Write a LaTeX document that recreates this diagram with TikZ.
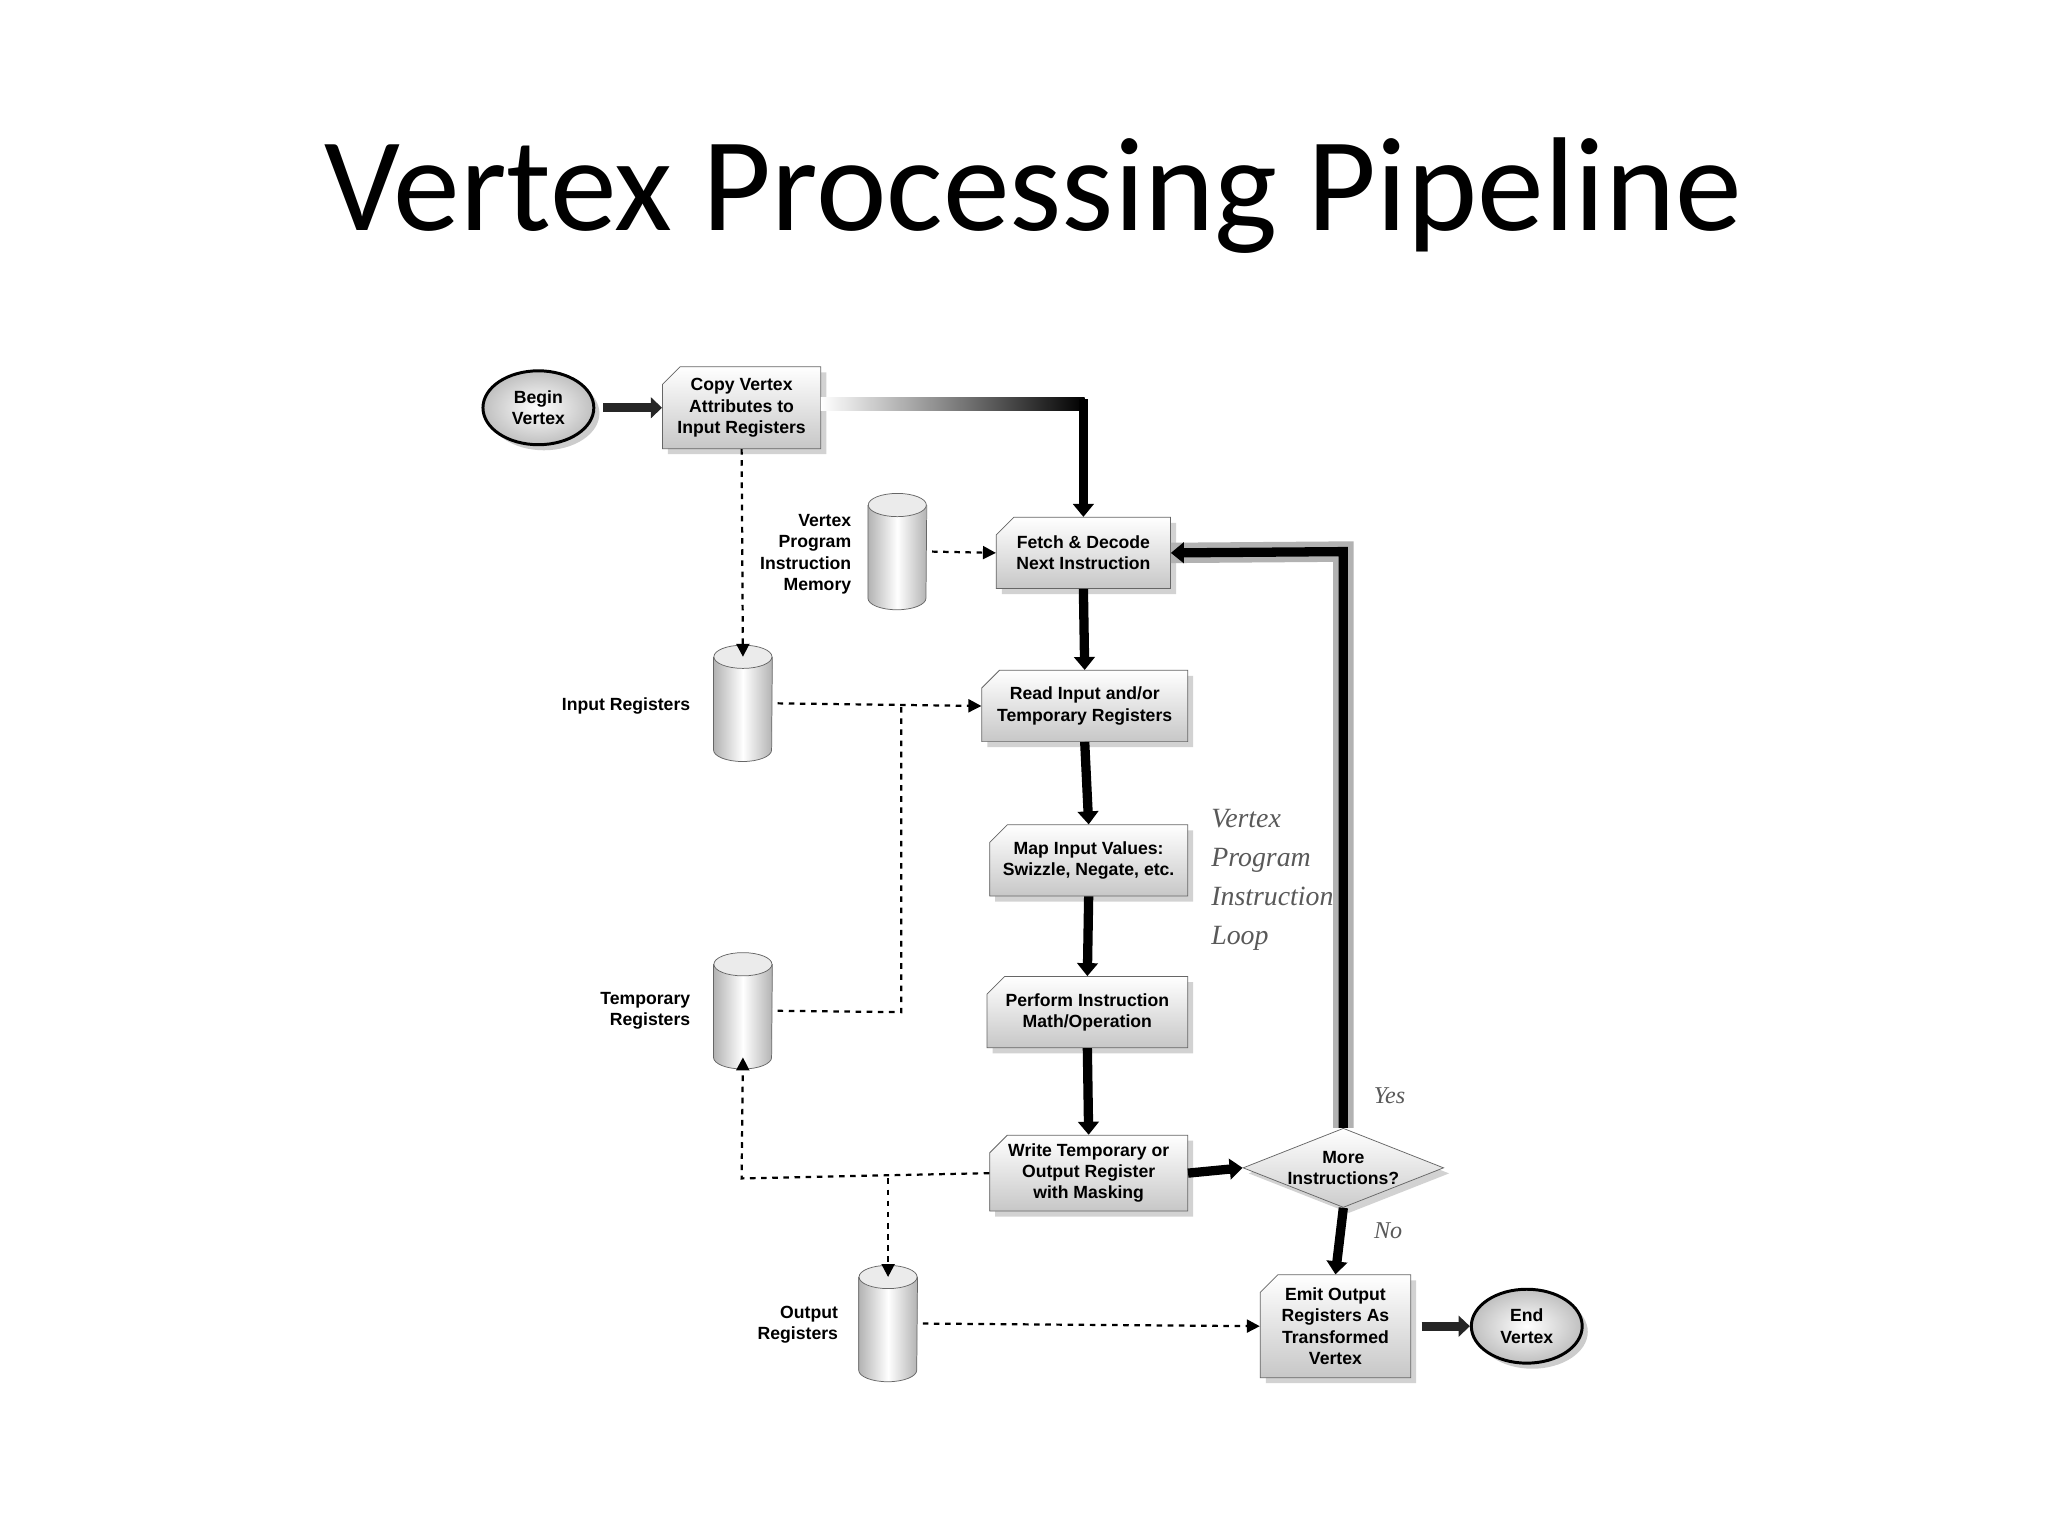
\documentclass[tikz,border=0pt]{standalone}
\usepackage{fontspec}
\setmainfont{Liberation Sans}
\newfontfamily\titlefont{Carlito}
\newfontfamily\itfont{Liberation Serif}
\usetikzlibrary{shapes.geometric,shapes.misc,shadows,arrows.meta}
\begin{document}
\begin{tikzpicture}[x=0.025cm,y=-0.025cm,
  box/.style={chamfered rectangle,chamfered rectangle corners=north west,chamfered rectangle xsep=6pt,
    draw=black!60,top color=white,bottom color=black!22,drop shadow={opacity=0.35,shadow xshift=3pt,shadow yshift=-3pt},
    align=center,font=\bfseries\fontsize{9.5}{11.5}\selectfont,inner sep=1pt},
  oval/.style={ellipse,draw,line width=1.6pt,inner color=white,outer color=black!25,
    drop shadow={opacity=0.4,shadow xshift=3pt,shadow yshift=-3pt},align=center,font=\bfseries\fontsize{9.5}{11.5}\selectfont,minimum width=2.1cm,minimum height=1.4cm,inner sep=0pt},
  lbl/.style={align=right,anchor=east,font=\bfseries\fontsize{9.5}{11.5}\selectfont},
  thick arr/.style={line width=5pt,-{Triangle[length=7pt,width=11pt]}},
  dash arr/.style={line width=1.2pt,dash pattern=on 3pt off 3pt,-{Triangle[length=7pt,width=7pt]}},
  dash line/.style={line width=1.2pt,dash pattern=on 3pt off 3pt},
  cyl/.style={minimum width=1.1cm,minimum height=1.75cm,inner sep=0pt}]
\useasboundingbox (0,0) rectangle (1552,1164);
\fill[white] (0,0) rectangle (1552,1164);
\node[font=\titlefont\fontsize{72}{80}\selectfont] (title) at (783,148) {Vertex Processing Pipeline};

\newcommand{\cylshape}[1]{%
  \shade[left color=black!30,right color=black!30,middle color=white]
    (#1.north west) -- (#1.south west) arc[x radius=0.55cm,y radius=0.22cm,start angle=180,end angle=360] -- (#1.north east) -- cycle;
  \draw[black!60] (#1.north west) -- (#1.south west) arc[x radius=0.55cm,y radius=0.22cm,start angle=180,end angle=360] -- (#1.north east);
  \draw[black!60,fill=black!8] (#1.north) ellipse[x radius=0.55cm,y radius=0.22cm];}

\node[oval] (begin) at (408,309) {Begin\\Vertex};
\node[box,minimum width=3cm,minimum height=1.55cm] (copy) at (562,309) {Copy Vertex\\Attributes to\\Input Registers};
\node[box,minimum width=3.3cm,minimum height=1.35cm] (fetch) at (821,419) {Fetch \& Decode\\Next Instruction};
\node[box,minimum width=3.9cm,minimum height=1.35cm] (read) at (822,535) {Read Input and/or\\Temporary Registers};
\node[box,minimum width=3.75cm,minimum height=1.35cm] (map) at (825,652) {Map Input Values:\\Swizzle, Negate, etc.};
\node[box,minimum width=3.8cm,minimum height=1.35cm] (perf) at (824,767) {Perform Instruction\\Math/Operation};
\node[box,minimum width=3.75cm,minimum height=1.4cm] (write) at (825,889) {Write Temporary or\\Output Register\\with Masking};
\node[box,minimum width=2.85cm,minimum height=1.95cm] (emit) at (1012,1005) {Emit Output\\Registers As\\Transformed\\Vertex};
\node[oval] (end) at (1157,1005) {End\\Vertex};
\node[diamond,aspect=2.5,draw=black!60,top color=white,bottom color=black!20,drop shadow={opacity=0.35,shadow xshift=3pt,shadow yshift=-3pt},
  font=\bfseries\fontsize{9.5}{11.5}\selectfont,align=center,inner sep=0pt,minimum width=3.8cm,minimum height=1.5cm] (more) at (1018,885) {More\\Instructions?};

\node[cyl] (vpm) at (680,418) {}; \cylshape{vpm}
\node[cyl] (ir) at (563,533) {}; \cylshape{ir}
\node[cyl] (tr) at (563,766) {}; \cylshape{tr}
\node[cyl] (orr) at (673,1003) {}; \cylshape{orr}
\node[lbl] (vpml) at (650,420) {Vertex\\Program\\Instruction\\Memory};
\node[lbl] (irl) at (528,535) {Input Registers};
\node[lbl] (trl) at (528,766) {Temporary\\Registers};
\node[lbl] (orl) at (640,1004) {Output\\Registers};
\node[anchor=north west,align=left,text=black!65,font=\itfont\itshape\fontsize{15}{21}\selectfont] (loop) at (913,608) {Vertex\\Program\\Instruction\\Loop};
\node[text=black!65,font=\itfont\itshape\fontsize{13}{15}\selectfont] (yes) at (1053,830) {Yes};
\node[text=black!65,font=\itfont\itshape\fontsize{13}{15}\selectfont] (no) at (1052,933) {No};

% thick flow
\draw[line width=5pt,-{Triangle[length=6pt,width=11pt]},black!85] (begin.east) ++(6,0) -- (copy.west);
\shade[left color=white,right color=black] (622,301) rectangle (822,311);
\draw[thick arr] (818,306) -- (818,306 -| fetch.north) -- (fetch.north);
\draw[thick arr] (fetch.south) -- (read.north);
\draw[thick arr] (read.south) -- (map.north);
\draw[thick arr] (map.south) -- (perf.north);
\draw[thick arr] (perf.south) -- (write.north);
\draw[thick arr] (write.east) -- (more.west);
\draw[thick arr] (more.south) -- (emit.north);
\draw[line width=5pt,-{Triangle[length=6pt,width=11pt]},black!85] (emit.east) ++(8,0) -- (end.west);
\coordinate (lc) at (1018,418);
\draw[line width=11pt,black!30] (more.north) -- (lc) -- (fetch.east);
\draw[thick arr] (more.north) -- (lc) -- (fetch.east);

% dashed data
\draw[dash arr] (copy.south) -- (ir.north);
\draw[dash arr] (vpm.east) ++(4,0) -- (fetch.west);
\draw[dash arr] (ir.east) ++(4,0) -- (read.west);
\coordinate (j1) at (683,535);
\coordinate (j2) at (683,767);
\draw[dash line] (tr.east) ++(4,0) -- (j2) -- (j1);
\coordinate (w1) at (562,893);
\coordinate (w2) at (673,893);
\draw[dash arr] (write.west) -- (w1) -- (tr.south);
\draw[dash arr] (w2) -- (orr.north);
\draw[dash arr] (orr.east) ++(4,0) -- (emit.west);
\end{tikzpicture}
\end{document}
